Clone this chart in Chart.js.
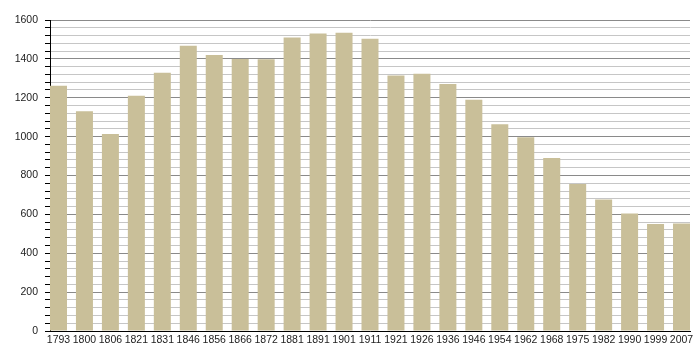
<!DOCTYPE html>
<html>
<head>
<meta charset="utf-8">
<script src="https://cdn.jsdelivr.net/npm/chart.js@4"></script>
<style>
  html, body { margin: 0; padding: 0; background: #fff; }
  #wrap { width: 700px; height: 360px; position: relative; }
</style>
</head>
<body>
<div id="wrap"><canvas id="popChart"></canvas></div>
<script>
// census years and population
const years = ['1793','1800','1806','1821','1831','1846','1856','1866','1872','1881','1891','1901','1911',
               '1921','1926','1936','1946','1954','1962','1968','1975','1982','1990','1999','2007'];
const population = [1262, 1131, 1014, 1210, 1329, 1468, 1420, 1400, 1398, 1510, 1530, 1535, 1503,
                    1315, 1324, 1271, 1190, 1064, 997, 890, 756, 677, 605, 550, 553];
const yTicks = { min: 0, max: 1600, minor: 40, major: 200 };

const barColor = '#c9bf99';
const font = { family: "'Liberation Sans', Arial, sans-serif", size: 10.5 };

new Chart(document.getElementById('popChart').getContext('2d'), {
  type: 'bar',
  data: {
    datasets: [{
      data: population.map((v, i) => ({ x: i, y: v })),
      backgroundColor: barColor,
      borderWidth: 0,
      categoryPercentage: 1,
      barPercentage: 0.655
    }]
  },
  options: {
    responsive: true,
    maintainAspectRatio: false,
    animation: false,
    layout: { padding: { top: 20, right: 10, left: 0, bottom: 0 } },
    plugins: { legend: { display: false }, tooltip: { enabled: false } },
    scales: {
      x: {
        type: 'linear',
        offset: false,
        min: -0.327, max: years.length - 1 + 0.327,
        afterBuildTicks: (s) => { s.ticks = years.map((_, i) => ({ value: i })); },
        afterFit: (s) => { s.height = 29; },
        grid: { display: false, drawTicks: false },
        border: { display: true, color: '#000', width: 1 },
        ticks: {
          autoSkip: false, maxRotation: 0, padding: 3,
          color: '#222', font,
          callback: (v) => years[v] ?? ''
        }
      },
      y: {
        min: yTicks.min, max: yTicks.max,
        afterFit: (s) => { s.width = 50; },
        grid: {
          color: (c) => (c.tick && c.tick.value % yTicks.major === 0) ? '#8a8a8a' : '#c6c6c6',
          tickColor: '#000',
          tickLength: 5
        },
        border: { display: true, color: '#000', width: 1 },
        ticks: {
          stepSize: yTicks.minor, autoSkip: false, padding: 7,
          color: '#222', font,
          callback: (v) => v % yTicks.major === 0 ? v : ''
        }
      }
    }
  }
});
</script>
</body>
</html>
